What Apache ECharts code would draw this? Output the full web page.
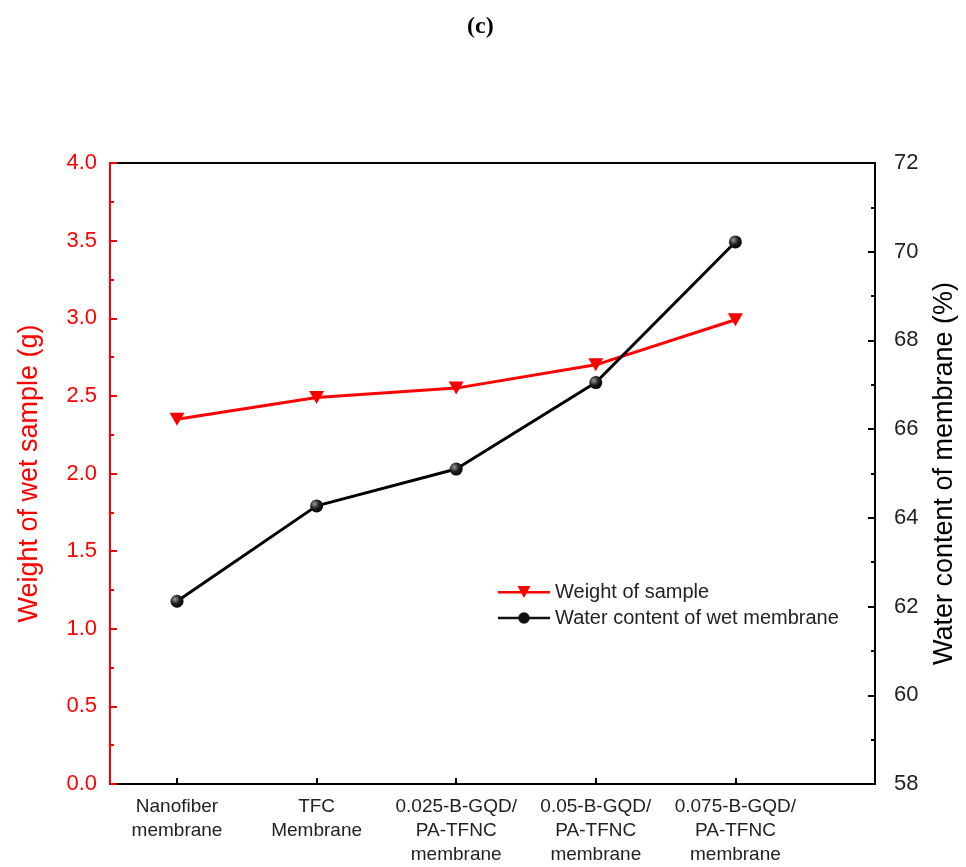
<!DOCTYPE html>
<html>
<head>
<meta charset="utf-8">
<script src="https://cdn.jsdelivr.net/npm/echarts@6/dist/echarts.min.js"></script>
<style>
html,body{margin:0;padding:0;background:#fff;}
#chart{width:966px;height:867px;}
</style>
</head>
<body>
<div id="chart"></div>
<script>
// ---- data ----
const categories = [
  "Nanofiber\nmembrane",
  "TFC\nMembrane",
  "0.025-B-GQD/\nPA-TFNC\nmembrane",
  "0.05-B-GQD/\nPA-TFNC\nmembrane",
  "0.075-B-GQD/\nPA-TFNC\nmembrane"
];
const weightOfSample = [2.35, 2.49, 2.55, 2.70, 2.99];
const waterContent = [62.12, 64.27, 65.10, 67.05, 70.22];
const leftTicks = [0, 0.5, 1.0, 1.5, 2.0, 2.5, 3.0, 3.5, 4.0];
const rightTicks = [58, 60, 62, 64, 66, 68, 70, 72];
const seriesNames = ["Weight of sample", "Water content of wet membrane"];

const positions = categories.map((c, i) => i + 1);
const weightData = weightOfSample.map((v, i) => [positions[i], v]);
const waterData = waterContent.map((v, i) => [positions[i], v]);

const chart = echarts.init(document.getElementById('chart'));
const FONT = '"Liberation Sans", Arial, sans-serif';

const ballColor = {
  type: 'radial', x: 0.35, y: 0.35, r: 0.7,
  colorStops: [{offset: 0, color: '#9a9a9a'}, {offset: 0.5, color: '#222'}, {offset: 1, color: '#000'}]
};

const legendTri = 'path://M0,6 L52,6 L52,8.6 L0,8.6 Z M19.5,1 L32.5,1 L26,13 Z';
const legendBall = 'path://M0,6 L52,6 L52,8.6 L0,8.6 Z M26,1.5 A5.8,5.8 0 1,1 25.99,1.5 Z';

chart.setOption({
  animation: false,
  backgroundColor: '#fff',
  title: {
    text: '(c)', left: 462, top: 10,
    textStyle: {fontFamily: '"Liberation Serif", "DejaVu Serif", serif', fontWeight: 'bold', fontSize: 24, color: '#000'}
  },
  grid: {
    left: 110, right: 86, top: 163, bottom: 81,
    show: true, borderColor: '#000', borderWidth: 2, backgroundColor: 'transparent'
  },
  legend: {
    left: 493, top: 577, orient: 'vertical', itemGap: 6, itemWidth: 52, itemHeight: 14,
    textStyle: {fontFamily: FONT, fontSize: 20, color: '#222'},
    data: [
      {name: seriesNames[0], icon: legendTri, itemStyle: {color: '#ff0000'}},
      {name: seriesNames[1], icon: legendBall, itemStyle: {color: '#111'}}
    ]
  },
  xAxis: {
    type: 'value', min: 0.52, max: 6, interval: 0.5,
    splitLine: {show: false},
    axisLine: {show: true, lineStyle: {color: '#000', width: 2}},
    axisTick: {show: true, inside: true, length: 6, lineStyle: {color: '#000', width: 2}, customValues: positions},
    axisLabel: {
      customValues: positions,
      formatter: v => categories[Math.round(v) - 1] || '',
      fontFamily: FONT, fontSize: 19, color: '#222', lineHeight: 24, margin: 11
    }
  },
  yAxis: [
    {
      type: 'value', position: 'left', min: 0, max: 4, interval: 0.5,
      name: 'Weight of wet sample (g)', nameLocation: 'middle', nameGap: 67, nameRotate: 90,
      nameTextStyle: {fontFamily: FONT, fontSize: 27, color: '#ff0000'},
      splitLine: {show: false},
      axisLine: {show: true, lineStyle: {color: '#ff0000', width: 2}},
      axisTick: {show: true, inside: true, length: 7, lineStyle: {color: '#ff0000', width: 2}},
      minorTick: {show: true, splitNumber: 2, length: 4, lineStyle: {color: '#ff0000', width: 2}},
      axisLabel: {
        fontFamily: FONT, fontSize: 22, color: '#ff0000', margin: 13,
        formatter: v => leftTicks.includes(v) ? v.toFixed(1) : ''
      }
    },
    {
      type: 'value', position: 'right', min: 58, max: 72, interval: 2,
      name: 'Water content of membrane (%)', nameLocation: 'middle', nameGap: 56, nameRotate: 90,
      nameTextStyle: {fontFamily: FONT, fontSize: 27, color: '#000'},
      splitLine: {show: false},
      axisLine: {show: true, lineStyle: {color: '#000', width: 2}},
      axisTick: {show: true, inside: true, length: 7, lineStyle: {color: '#000', width: 2}},
      minorTick: {show: true, splitNumber: 2, length: 4, lineStyle: {color: '#000', width: 2}},
      axisLabel: {
        fontFamily: FONT, fontSize: 22, color: '#222', margin: 19,
        formatter: v => rightTicks.includes(v) ? String(v) : ''
      }
    }
  ],
  series: [
    {
      name: seriesNames[0], type: 'line', yAxisIndex: 0, data: weightData,
      symbol: 'path://M0,0 L10,0 L5,8 Z', symbolSize: [15, 13],
      itemStyle: {color: '#ff0000'},
      lineStyle: {color: '#ff0000', width: 3}, z: 3
    },
    {
      name: seriesNames[1], type: 'line', yAxisIndex: 1, data: waterData,
      symbol: 'circle', symbolSize: 13,
      itemStyle: {color: ballColor},
      lineStyle: {color: '#000', width: 3}, z: 4
    }
  ]
});
</script>
</body>
</html>
